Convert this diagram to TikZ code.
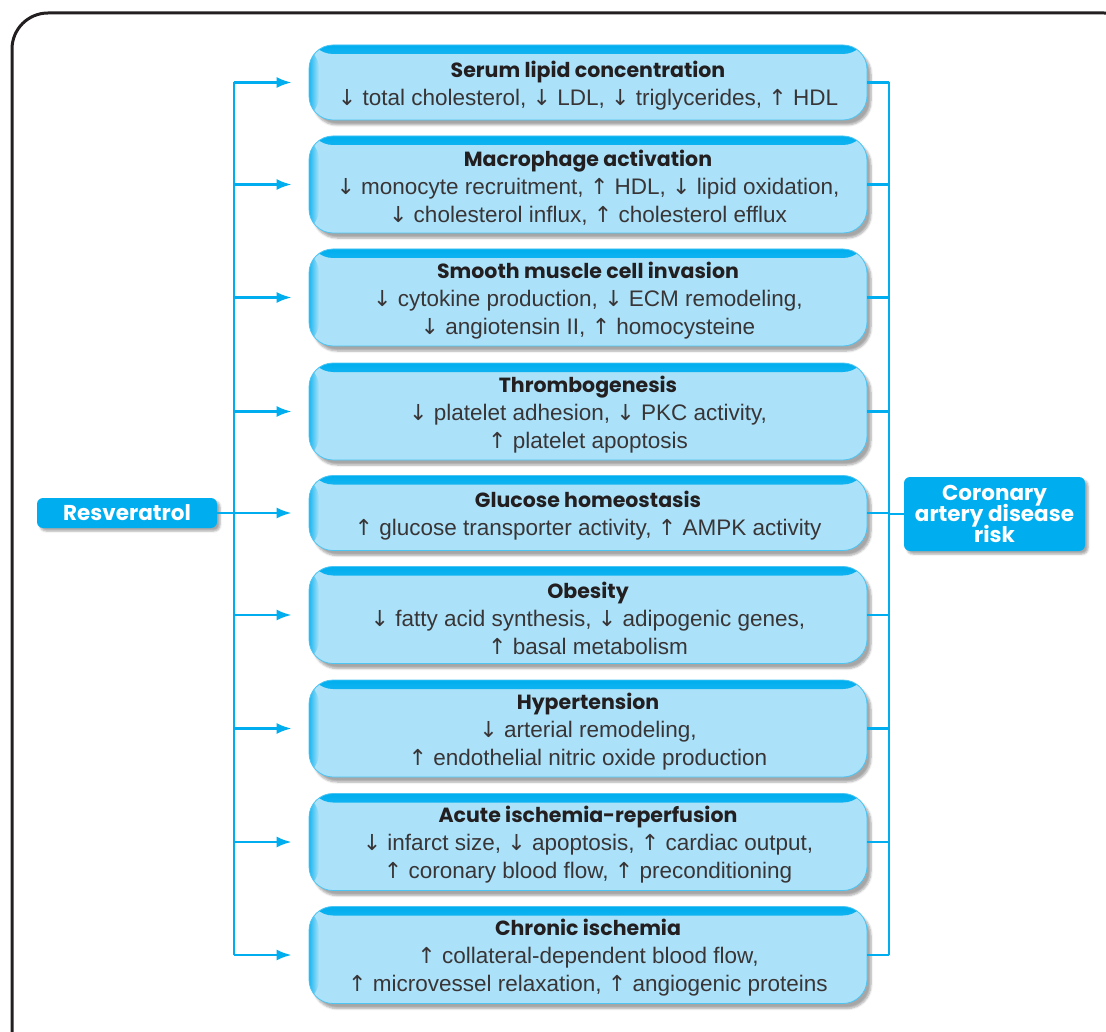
\documentclass[tikz,border=0pt]{standalone}
\usepackage{fontspec}
\setmainfont{Liberation Sans}
\newfontfamily\titlefont{Poppins}
\newfontfamily\arrfont{DejaVu Sans}
\usetikzlibrary{shadows.blur,calc,arrows.meta}
\definecolor{cy}{HTML}{00AEEF}
\definecolor{lb}{HTML}{ABE2F9}
\definecolor{ink}{HTML}{231F20}
\tikzset{
  effbox/.style={minimum width=558pt, inner sep=0pt, rounded corners=24pt, fill=lb, draw=cy!55!lb, line width=0.8pt,
    blur shadow={shadow xshift=4pt, shadow yshift=-5pt, shadow blur steps=6, shadow opacity=35},
    path picture={\shade[top color=cy, bottom color=lb] (path picture bounding box.north west) rectangle ($(path picture bounding box.north east)+(0,9)$);
      \shade[left color=cy!85!lb, right color=lb] (path picture bounding box.north west) rectangle ($(path picture bounding box.south west)+(10,0)$);}},
  two/.style={effbox, minimum height=75pt},
  three/.style={effbox, minimum height=97pt},
  txt/.style={align=center, text=ink!90, inner sep=0pt, font=\fontsize{22.5}{28}\selectfont},
  tag/.style={fill=cy, rounded corners=6pt, inner sep=0pt, text=white, align=center,
    font=\titlefont\bfseries\fontsize{21.5}{21}\selectfont,
    blur shadow={shadow xshift=3pt, shadow yshift=-3pt, shadow blur steps=5, shadow opacity=35}},
  conn/.style={draw=cy, line width=2.4pt},
  arr/.style={conn, -{Latex[length=15pt,width=11pt]}, shorten >=17pt},
}
\newcommand{\ttl}[1]{{\titlefont\bfseries\fontsize{20.5}{28}\selectfont\color{ink} #1}}
\newcommand{\dn}{{\arrfont\fontsize{22}{28}\selectfont ↓}}
\newcommand{\up}{{\arrfont\fontsize{22}{28}\selectfont ↑}}
\begin{document}
\begin{tikzpicture}[x=1pt,y=-1pt]
\useasboundingbox (0,0) rectangle (1106,1032);
\draw[ink, line width=3pt, rounded corners=36pt] (12,13) rectangle (1140,1070);

\node[two]   (b1) at (588,82.5)  {};
\node[three] (b2) at (588,184.5) {};
\node[three] (b3) at (588,297.5) {};
\node[three] (b4) at (588,411.5) {};
\node[two]   (b5) at (588,513)   {};
\node[three] (b6) at (588,615)   {};
\node[three] (b7) at (588,728.5) {};
\node[three] (b8) at (588,842)   {};
\node[three] (b9) at (588,955)   {};

\node[txt] (t1) at ($(b1.center)+(0,3)$) {\ttl{Serum lipid concentration}\\\dn{} total cholesterol, \dn{} LDL, \dn{} triglycerides, \up{} HDL};
\node[txt] (t2) at ($(b2.center)+(0,3)$) {\ttl{Macrophage activation}\\\dn{} monocyte recruitment, \up{} HDL, \dn{} lipid oxidation,\\\dn{} cholesterol influx, \up{} cholesterol efflux};
\node[txt] (t3) at ($(b3.center)+(0,3)$) {\ttl{Smooth muscle cell invasion}\\\dn{} cytokine production, \dn{} ECM remodeling,\\\dn{} angiotensin II, \up{} homocysteine};
\node[txt] (t4) at ($(b4.center)+(0,3)$) {\ttl{Thrombogenesis}\\\dn{} platelet adhesion, \dn{} PKC activity,\\\up{} platelet apoptosis};
\node[txt] (t5) at ($(b5.center)+(0,3)$) {\ttl{Glucose homeostasis}\\\up{} glucose transporter activity, \up{} AMPK activity};
\node[txt] (t6) at ($(b6.center)+(0,3)$) {\ttl{Obesity}\\\dn{} fatty acid synthesis, \dn{} adipogenic genes,\\\up{} basal metabolism};
\node[txt] (t7) at ($(b7.center)+(0,3)$) {\ttl{Hypertension}\\\dn{} arterial remodeling,\\\up{} endothelial nitric oxide production};
\node[txt] (t8) at ($(b8.center)+(0,3)$) {\ttl{Acute ischemia-reperfusion}\\\dn{} infarct size, \dn{} apoptosis, \up{} cardiac output,\\\up{} coronary blood flow, \up{} preconditioning};
\node[txt] (t9) at ($(b9.center)+(0,3)$) {\ttl{Chronic ischemia}\\\up{} collateral-dependent blood flow,\\\up{} microvessel relaxation, \up{} angiogenic proteins};

\node[tag, minimum width=180pt, minimum height=30pt] (res) at (127,513) {Resveratrol};
\node[tag, minimum width=181pt, minimum height=74pt] (cad) at (994.5,514) {Coronary\\[-3pt]artery disease\\[-3pt]risk};

\coordinate (busL) at (234,0);
\coordinate (busR) at (889,0);
\draw[conn] (b1.west -| busL) -- (b9.west -| busL);
\foreach \i in {1,2,3,4,6,7,8,9} {\draw[arr] (b\i.west -| busL) -- (b\i.west);}
\draw[arr] (res.east) -- (b5.west);
\draw[conn, line width=2.8pt] (b1.east -| busR) -- (b9.east -| busR);
\foreach \i in {1,...,9} {\draw[conn, line width=2.8pt] (b\i.east) -- (b\i.east -| busR);}
\draw[conn, line width=2.8pt] (cad.west) -- (cad.west -| busR);
\end{tikzpicture}
\end{document}
